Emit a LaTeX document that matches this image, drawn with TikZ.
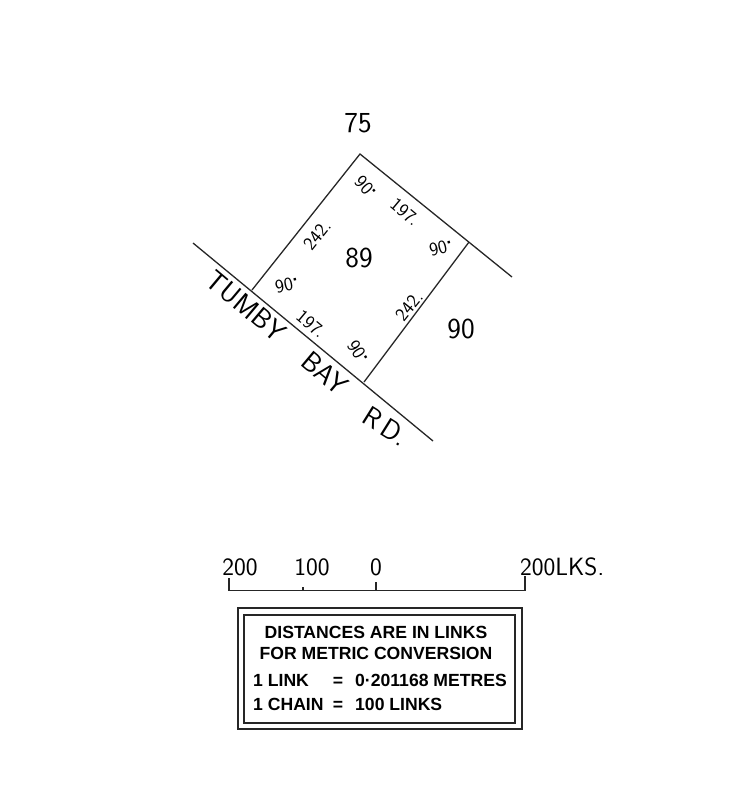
\documentclass[tikz,border=0pt]{standalone}
\usepackage{fontspec}
\newfontfamily\boxfont{Liberation Sans}[BoldFont={Liberation Sans Bold}]
\newcommand{\raiseddot}{\raisebox{.45em}{\bfseries.}}
\begin{document}
\begin{tikzpicture}
      [
        x=1pt, y=-1pt,
        boundary/.style={line width=1.3pt, black!85},
        lotnum/.style={font=\sffamily\fontsize{29}{29}\selectfont},
        dimtext/.style={font=\sffamily\fontsize{19}{19}\selectfont, inner sep=0pt},
        roadname/.style={font=\sffamily\fontsize{28}{28}\selectfont\addfontfeature{LetterSpace=7}, rotate=-40, inner sep=0pt},
        scaletext/.style={font=\sffamily\fontsize{25}{25}\selectfont},
        notetext/.style={font=\boxfont\bfseries\fontsize{17.6}{17.6}\selectfont, inner sep=0pt},
        framebox/.style={draw, line width=1.3pt, black!85, inner sep=0pt}
      ]
      \useasboundingbox (0,0) rectangle (750,796);
      % parcel corners and road ends
      \coordinate (apex) at (360,154);
      \coordinate (east) at (469,242);
      \coordinate (fenceend) at (512,277);
      \coordinate (west) at (252,290);
      \coordinate (south) at (364,382);
      \coordinate (roadstart) at (193,243);
      \coordinate (roadend) at (433,441);
      \draw[boundary] (west) -- (apex) -- (fenceend);
      \draw[boundary] (east) -- (south);
      \draw[boundary] (roadstart) -- (roadend);
      % lot numbers
      \node[lotnum] (lotnorth) at (358,123) {75};
      \node[lotnum] (lotmain) at (359,258) {89};
      \node[lotnum] (lotright) at (461,329) {90};
      % bearings and lengths
      \node[dimtext, rotate=-48] (angtop) at (366,187) {90\raiseddot};
      \node[dimtext, rotate=14] (angright) at (441,248) {90\raiseddot};
      \node[dimtext, rotate=12] (angleft) at (287,285) {90\raiseddot};
      \node[dimtext, rotate=-58] (angbottom) at (358,352) {90\raiseddot};
      \node[dimtext, rotate=51] (lenleft) at (317,235) {242.};
      \node[dimtext, rotate=51] (lenright) at (409,306) {242.};
      \node[dimtext, rotate=-40] (widthtop) at (405,212) {197.};
      \node[dimtext, rotate=-40] (widthbottom) at (311,324) {197.};
      % road name
      \node[roadname] (roadtumby) at (246,306) {TUMBY};
      \node[roadname] (roadbay) at (325,373) {BAY};
      \node[roadname, rotate=8] (roadrd) at (386,426) {R\,D.};
      % scale bar
      \node[scaletext] (scaleleft) at (240,567) {200};
      \node[scaletext] (scalemid) at (312,567) {100};
      \node[scaletext] (scalezero) at (376,567) {0};
      \node[scaletext, anchor=west, inner sep=0pt] (scaleright) at (520,567) {200LKS.};
      \coordinate (barlefttop) at (229,578);
      \coordinate (barleft) at (229,590.5);
      \coordinate (barright) at (525,590.5);
      \coordinate (barrighttop) at (525,576);
      \coordinate (tickmid) at (303,590.5);
      \coordinate (tickmidtop) at (303,587);
      \coordinate (tickzero) at (376,590.5);
      \coordinate (tickzerotop) at (376,582);
      \draw[boundary] (barlefttop) -- (barleft) -- (barright) -- (barrighttop);
      \draw[boundary] (tickmid) -- (tickmidtop);
      \draw[boundary] (tickzero) -- (tickzerotop);
      % conversion panel
      \node[framebox, minimum width=284pt, minimum height=121pt] (outerbox) at (380,668.5) {};
      \node[framebox, minimum width=271pt, minimum height=108pt] (innerbox) at (379.5,669) {};
      \node[notetext] (noteone) at (376,632) {DISTANCES ARE IN LINKS};
      \node[notetext] (notetwo) at (376,653) {FOR METRIC CONVERSION};
      \node[notetext, anchor=base west] (linkname) at (253,686) {1 LINK};
      \node[notetext, anchor=base] (linkeq) at (338,686) {=};
      \node[notetext, anchor=base west] (linkval) at (355,686) {0·201168 METRES};
      \node[notetext, anchor=base west] (chainname) at (253,710) {1 CHAIN};
      \node[notetext, anchor=base] (chaineq) at (338,710) {=};
      \node[notetext, anchor=base west] (chainval) at (355,710) {100 LINKS};
\end{tikzpicture}
\end{document}
